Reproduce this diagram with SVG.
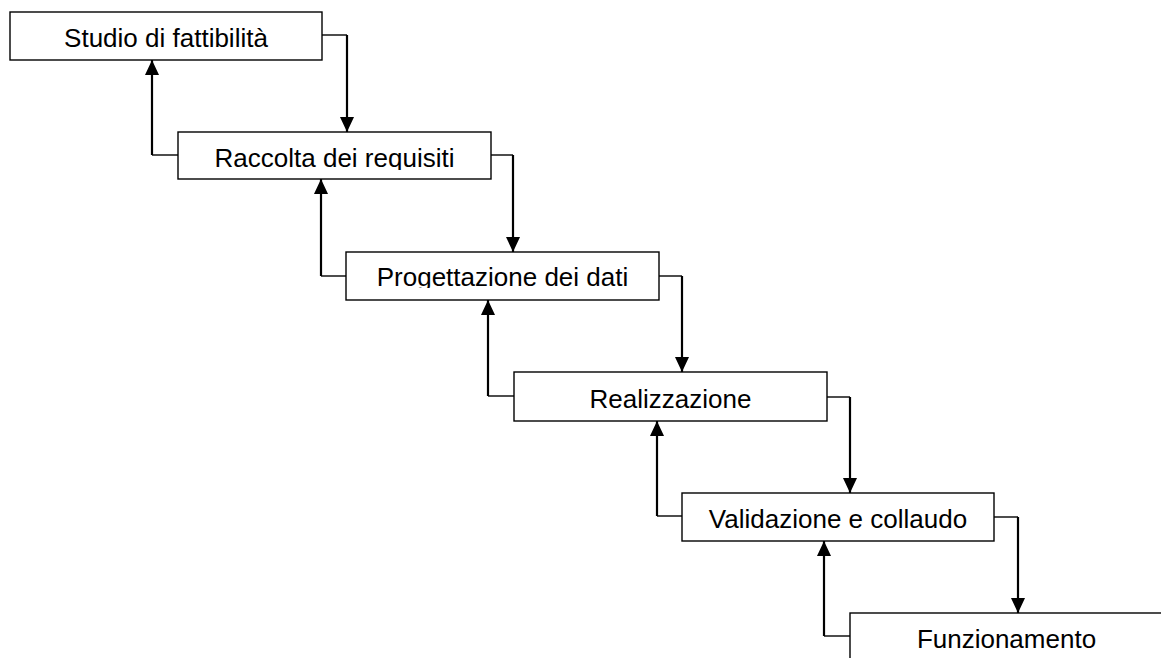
<svg xmlns="http://www.w3.org/2000/svg" width="1161" height="658" viewBox="0 0 1161 658">
  <style>
    .box { fill: #ffffff; stroke: #000000; stroke-width: 1.4; }
    .label { font-family: "Liberation Sans", Arial, sans-serif; font-size: 26px; fill: #000000; text-anchor: middle; }
    .link-h { fill: none; stroke: #000000; stroke-width: 1.4; }
    .link-v { fill: none; stroke: #000000; stroke-width: 2.2; }
  </style>
  <defs>
    <marker id="arrow" viewBox="0 0 15 14" refX="15" refY="7" markerWidth="15" markerHeight="14" markerUnits="userSpaceOnUse" orient="auto">
      <path d="M0,0 L15,7 L0,14 z" fill="#000000"/>
    </marker>
    <!-- text areas are clipped just below the baseline, cutting descenders -->
    <clipPath id="clip1"><rect x="10" y="12" width="312" height="37"/></clipPath>
    <clipPath id="clip2"><rect x="178" y="132" width="313" height="38"/></clipPath>
    <clipPath id="clip3"><rect x="346" y="252" width="313" height="36"/></clipPath>
    <clipPath id="clip4"><rect x="514" y="372" width="313" height="38"/></clipPath>
    <clipPath id="clip5"><rect x="682" y="493" width="312" height="38"/></clipPath>
    <clipPath id="clip6"><rect x="850" y="613" width="313" height="38"/></clipPath>
  </defs>

  <g id="connectors">
    <!-- forward flow: right side of each phase down to the next -->
    <path class="link-h" d="M322,35 H347"/>
    <path class="link-v" d="M347,35 V132" marker-end="url(#arrow)"/>
    <path class="link-h" d="M491,155 H513"/>
    <path class="link-v" d="M513,155 V252" marker-end="url(#arrow)"/>
    <path class="link-h" d="M659,276 H682"/>
    <path class="link-v" d="M682,276 V372" marker-end="url(#arrow)"/>
    <path class="link-h" d="M827,397 H850"/>
    <path class="link-v" d="M850,397 V493" marker-end="url(#arrow)"/>
    <path class="link-h" d="M994,517 H1018"/>
    <path class="link-v" d="M1018,517 V613" marker-end="url(#arrow)"/>

    <!-- feedback: left side of each phase back up to the previous -->
    <path class="link-h" d="M178,155 H152"/>
    <path class="link-v" d="M152,155 V60" marker-end="url(#arrow)"/>
    <path class="link-h" d="M346,276 H321"/>
    <path class="link-v" d="M321,276 V179" marker-end="url(#arrow)"/>
    <path class="link-h" d="M514,396 H488"/>
    <path class="link-v" d="M488,396 V300" marker-end="url(#arrow)"/>
    <path class="link-h" d="M682,516 H657"/>
    <path class="link-v" d="M657,516 V421" marker-end="url(#arrow)"/>
    <path class="link-h" d="M850,636 H824"/>
    <path class="link-v" d="M824,636 V541" marker-end="url(#arrow)"/>
  </g>

  <g id="studio">
    <rect class="box" x="10" y="12" width="312" height="48"/>
    <text class="label" x="166" y="47" clip-path="url(#clip1)">Studio di fattibilità</text>
  </g>
  <g id="raccolta">
    <rect class="box" x="178" y="132" width="313" height="47"/>
    <text class="label" x="334.5" y="167" clip-path="url(#clip2)">Raccolta dei requisiti</text>
  </g>
  <g id="progettazione">
    <rect class="box" x="346" y="252" width="313" height="48"/>
    <text class="label" x="502.5" y="286" clip-path="url(#clip3)">Progettazione dei dati</text>
  </g>
  <g id="realizzazione">
    <rect class="box" x="514" y="372" width="313" height="49"/>
    <text class="label" x="670.5" y="408">Realizzazione</text>
  </g>
  <g id="validazione">
    <rect class="box" x="682" y="493" width="312" height="48"/>
    <text class="label" x="838" y="528">Validazione e collaudo</text>
  </g>
  <g id="funzionamento">
    <rect class="box" x="850" y="613" width="313" height="48"/>
    <text class="label" x="1006.5" y="648">Funzionamento</text>
  </g>
</svg>
